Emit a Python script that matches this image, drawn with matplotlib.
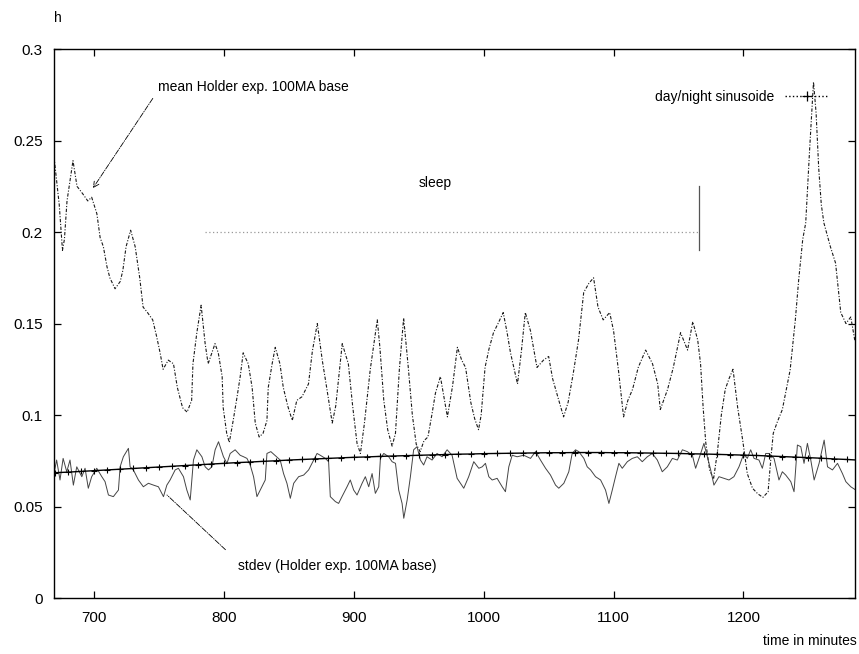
import matplotlib
matplotlib.use("Agg")
import matplotlib.pyplot as plt
from matplotlib.lines import Line2D
from matplotlib.ticker import FuncFormatter

plt.rcParams['font.family'] = ['Liberation Sans', 'DejaVu Sans']

# mean Holder exponent (100MA base)
mean_t = [669, 671, 673, 675.5, 677, 679, 683.6, 686.7, 691, 695, 698, 702, 704.5, 707,
          709.8, 712, 716, 720, 722, 724.5, 728, 731.5, 735, 737.6, 741, 745, 748, 750.7,
          753, 757, 761, 764, 768, 771.5, 775, 776, 779, 782.3, 785.4, 787.7, 793, 795.5,
          798.5, 799.3, 802, 804, 807, 810, 812.4, 814.7, 818.6, 821.6, 824, 827, 830, 833,
          834, 837, 839.4, 843, 845.6, 849, 852.5, 856, 860, 865, 868, 871.8, 875.6, 879,
          883.3, 886, 891, 895.7, 899, 902.4, 905, 908, 912.6, 918, 920, 923, 926, 929.4,
          932, 935, 938.3, 940, 942, 945, 948, 951, 954, 957, 960, 962.8, 966.6, 972, 976,
          979.7, 983, 986, 990, 993, 996, 998, 1001, 1004, 1007.5, 1011, 1015, 1018, 1020.6,
          1026, 1029, 1032, 1036, 1041, 1046, 1050, 1053, 1057, 1061.5, 1065, 1069, 1073,
          1077, 1081, 1084.6, 1088, 1092, 1097, 1100, 1104, 1107.7, 1111, 1114.6, 1119,
          1124.7, 1130, 1134, 1136, 1141.6, 1146, 1151.6, 1157, 1161, 1164.8, 1167, 1169,
          1171, 1174, 1177, 1180, 1183, 1186, 1189, 1192, 1195.6, 1199.5, 1203, 1207, 1211,
          1215, 1219, 1221, 1223, 1226, 1230, 1236, 1240, 1242.6, 1245.7, 1248, 1251, 1254,
          1256, 1258, 1260, 1262, 1267, 1271, 1275, 1279, 1282.7, 1286]
mean_h = [.241, .228, .215, .190, .196, .217, .239, .225, .221, .217, .219, .210, .197, .192,
          .181, .175, .169, .173, .179, .192, .201, .192, .175, .159, .156, .152, .143, .134,
          .125, .130, .128, .115, .104, .1016, .108, .128, .145, .160, .139, .128, .139, .134,
          .121, .104, .090, .085, .097, .110, .121, .134, .128, .115, .0956, .088, .090, .097,
          .115, .128, .137, .128, .115, .105, .097, .108, .110, .117, .135, .150, .130, .115,
          .0956, .105, .139, .128, .105, .0845, .079, .095, .125, .152, .137, .108, .092, .083,
          .090, .125, .153, .140, .125, .100, .084, .080, .086, .088, .100, .112, .121, .099, .116,
          .137, .130, .126, .107, .098, .092, .100, .126, .136, .145, .150, .156, .145, .134,
          .117, .135, .156, .146, .126, .130, .132, .120, .110, .099, .107, .123, .141,
          .167, .172, .175, .159, .152, .156, .146, .123, .099, .108, .114, .126,
          .1355, .128, .117, .103, .114, .126, .145, .1355, .151, .141, .128, .104,
          .085, .070, .065, .080, .100, .114, .120, .125, .104, .086, .068, .060, .057,
          .055, .058, .075, .090, .096, .103, .1246, .152, .174, .196, .205, .245, .282,
          .265, .235, .215, .205, .192, .183, .156, .150, .1536, .140]

# stdev of Holder exponent (100MA base)
sd_t = [668.5, 671, 673.6, 676, 678.8, 681.3, 683.9, 686.5, 690.4, 692.9, 695.4, 698, 701.9,
        705.8, 708.3, 710.9, 714.7, 718.6, 719.9, 722.4, 726.3, 727.6, 730.1, 734, 737.8,
        741.7, 745.6, 749.4, 753.3, 755.9, 758.4, 762.3, 764.8, 768.7, 771.3, 773.9, 776.4,
        779, 782.9, 785.4, 788, 790.6, 793.1, 795.7, 799.5, 802.2, 804.7, 808.5, 812.4, 815,
        817.6, 820.1, 822.7, 825.3, 829.1, 831.7, 833, 836, 843.2, 845.8, 848.4, 851, 853.6,
        857.4, 861.3, 865.1, 867.7, 871.6, 874.1, 878, 880.5, 881.8, 885.7, 888.2, 890.8,
        894.7, 897.2, 899.8, 902.4, 906.3, 908.8, 911.4, 914, 916.5, 919.1, 920.4, 923,
        926.8, 929.4, 932, 934.5, 937.1, 938.4, 941, 943.5, 946, 948.6, 951.2, 953.7, 956.3,
        960.2, 964, 967.9, 971.8, 975.6, 979.5, 984.6, 988.4, 992.3, 996.2, 998.8, 1001.3,
        1003.9, 1006.5, 1010.3, 1014.2, 1016.7, 1019.3, 1021.9, 1025.7, 1030.8, 1036,
        1039.9, 1043.7, 1047.6, 1051.4, 1055.3, 1057.8, 1061.7, 1065.5, 1068.1, 1070.7,
        1073.2, 1077.1, 1079.7, 1082.3, 1086.1, 1090, 1093.8, 1096.4, 1099, 1101.5, 1104.1,
        1106.7, 1110.6, 1114.4, 1118.3, 1122.1, 1126, 1129.8, 1133.7, 1137.5, 1141.4,
        1145.3, 1149.1, 1153, 1156.8, 1160.7, 1163.2, 1167.1, 1169.6, 1172.2, 1174.8,
        1177.3, 1181.2, 1185, 1188.9, 1192.7, 1196.6, 1200.4, 1203, 1205.6, 1208.2, 1212,
        1214.6, 1217.2, 1219.7, 1223.6, 1227.4, 1230, 1232.6, 1236.5, 1239, 1241.6, 1244.2,
        1246.7, 1249.3, 1251.9, 1254.5, 1258.3, 1262.2, 1264.8, 1268.6, 1272.5, 1276.3,
        1278.9, 1282.7, 1286.6]
sd_h = [.0663, .0754, .0645, .0763, .069, .0754, .0617, .0717, .0663, .0709, .060, .0663, .0709,
        .0663, .0636, .0563, .0554, .059, .0717, .0772, .0818, .0717, .070, .0645, .0608,
        .0627, .0617, .0608, .0554, .0617, .0645, .070, .0709, .0663, .059, .0536, .0754,
        .081, .0772, .0717, .070, .0717, .081, .0854, .0772, .0736, .079, .081, .078, .0772,
        .0763, .0727, .0663, .0554, .0608, .0645, .079, .080, .0754, .068, .0627, .0545, .0627,
        .0663, .0672, .070, .0736, .079, .078, .0763, .0745, .0554, .0527, .0517, .0554,
        .0608, .0645, .059, .0563, .0627, .0663, .0608, .068, .0572, .0608, .0763, .079,
        .0772, .0745, .0736, .059, .0517, .0436, .0536, .0663, .081, .0827, .0754, .0727, .0772,
        .0754, .079, .0772, .081, .078, .0654, .060, .0663, .0745, .0709, .0717, .0736,
        .0663, .0645, .0654, .0608, .0581, .0717, .078, .0772, .078, .0763,
        .080, .0754, .0709, .0672, .0617, .060, .0627, .069, .079, .081,
        .080, .0763, .0717, .070, .0663, .0645, .059, .0517, .059, .0663, .0736,
        .0709, .0745, .0763, .0772, .0745, .0772, .079, .0754, .069, .0717,
        .0763, .0754, .081, .080, .078, .0709, .079, .0845, .0772, .070,
        .0617, .0663, .0654, .0645, .0663, .0717, .079, .0763, .081, .0763, .0754,
        .0709, .079, .079, .0763, .0645, .069, .0672, .0636, .0581, .0836, .0827,
        .0736, .0845, .0754, .0645, .0736, .0863, .0717, .070, .0736, .068,
        .0636, .0608, .059]

# day/night sinusoide
sin_t = list(range(670, 1291, 10))
sin_h = [.0685, .0688, .0692, .0696, .0700, .0704, .0708, .0712, .0716, .0720, .0724, .0728,
         .0732, .0736, .0740, .0743, .0747, .0750, .0754, .0757, .0760, .0763, .0766, .0769,
         .0771, .0774, .0776, .0778, .0780, .0782, .0784, .0786, .0787, .0789, .0790, .0791,
         .0792, .0793, .0794, .0794, .0795, .0795, .0795, .0794, .0794, .0793, .0792, .0791,
         .0790, .0788, .0787, .0785, .0783, .0781, .0779, .0776, .0773, .0770, .0767, .0764,
         .0760, .0757, .0753]

# sleep interval
sleep_t = [785, 1166]
sleep_h = 0.2

xticks = [700, 800, 900, 1000, 1100, 1200]
yticks = [0, 0.05, 0.1, 0.15, 0.2, 0.25, 0.3]

fig = plt.figure(figsize=(8.59, 6.54), dpi=100)
ax = fig.add_axes([0.0629, 0.0856, 0.9325, 0.8394])

ax.plot(mean_t, mean_h, color='#1a1a1a', lw=0.8, ls=(0, (3, 1.5, 1, 1.5)))
ax.plot(sd_t, sd_h, color='#444444', lw=0.7)
ax.plot(sin_t, sin_h, color='black', lw=1.0, marker='+', ms=4.5, mew=0.8)

ax.plot(sleep_t, [sleep_h, sleep_h], color='#999999', lw=0.9, ls=(0, (1, 2)))
ax.plot([sleep_t[1], sleep_t[1]], [0.19, 0.225], color='#555555', lw=0.9)
ax.text(963, 0.227, 'sleep', fontsize=10, ha='center', va='center')

ax.annotate('mean Holder exp. 100MA base', xy=(699, 0.224), xytext=(749, 0.2795),
            fontsize=10, va='center', ha='left',
            arrowprops=dict(arrowstyle='->', color='black', lw=0.6, ls='-.',
                            relpos=(0, 0.2), shrinkA=3, shrinkB=0))
ax.annotate('stdev (Holder exp. 100MA base)', xy=(756, 0.0563), xytext=(811, 0.0175),
            fontsize=10, va='center', ha='left',
            arrowprops=dict(arrowstyle='-', color='black', lw=0.6, ls='-.',
                            relpos=(0, 0.8), shrinkA=10, shrinkB=0))

proxy = Line2D([], [], color='black', lw=1.0, ls=':', marker='+', ms=7, mew=0.9)
ax.legend(handles=[proxy], labels=['day/night sinusoide'], loc='upper right',
          bbox_to_anchor=(0.975, 0.935), frameon=False, markerfirst=False,
          handlelength=3.2, fontsize=10, borderaxespad=0)

ax.set_xlim(669, 1286)
ax.set_ylim(0, 0.3)
ax.set_xticks(xticks)
ax.set_yticks(yticks)
ax.yaxis.set_major_formatter(FuncFormatter(lambda v, p: '%g' % v))
ax.tick_params(direction='in', length=5, width=0.9, top=True, right=True, labelsize=11)
ax.tick_params(axis='x', pad=9)
ax.tick_params(axis='y', pad=8)
for s in ax.spines.values():
    s.set_linewidth(1.0)

ax.text(0.005, 1.056, 'h', transform=ax.transAxes, fontsize=10, ha='center', va='center')
ax.text(1.002, -0.078, 'time in minutes', transform=ax.transAxes, fontsize=10,
        ha='right', va='center')

fig.savefig('out.png', dpi=100)
